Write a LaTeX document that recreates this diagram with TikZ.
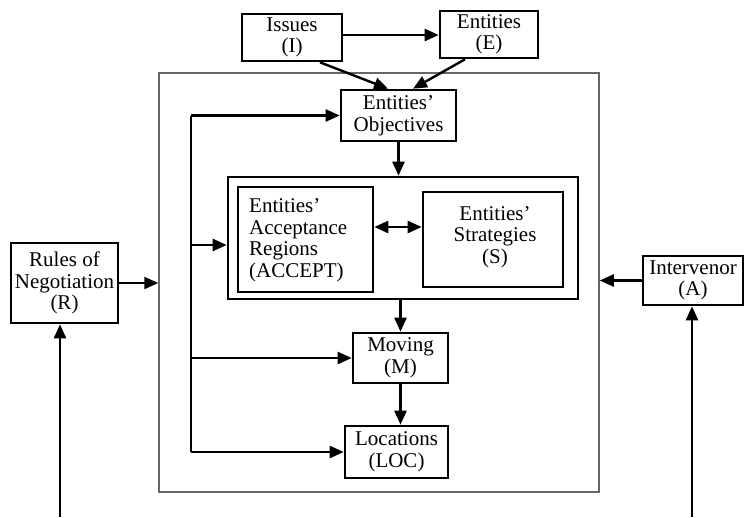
\documentclass[tikz,border=0pt]{standalone}
\usepackage{fontspec}
\setmainfont{Liberation Serif}
\usetikzlibrary{arrows.meta,calc}
\begin{document}
\begin{tikzpicture}[x=1pt,y=-1pt,
  box/.style={draw=black,line width=2.6pt,inner sep=0pt,align=center,
    font=\fontsize{21}{21.5}\selectfont},
  arr/.style={line width=2.4pt,-{Triangle[length=14pt,width=12pt]}},
  darr/.style={line width=2.4pt,{Triangle[length=14pt,width=12pt]}-{Triangle[length=14pt,width=12pt]}},
  lin/.style={line width=2.4pt}]
\useasboundingbox (0,0) rectangle (746,517);
% outer frame
\node[draw=black!60,line width=1.5pt,minimum width=440pt,minimum height=419pt,inner sep=0pt] (frame) at (379,282.5) {};
% nodes
\node[box,minimum width=100pt,minimum height=47pt] (I) at (292,37.5) {Issues\\(I)};
\node[box,minimum width=98pt,minimum height=47pt] (E) at (489,34.5) {Entities\\(E)};
\node[box,minimum width=115pt,minimum height=51pt] (O) at (398.5,115.5) {Entities'\\Objectives};
\node[box,minimum width=350pt,minimum height=122pt] (big) at (403,238) {};
\node[box,minimum width=135pt,minimum height=105pt] (ACC) at (305.5,239.5) {};
\node[anchor=west,align=left,inner sep=0pt,font=\fontsize{21}{21.5}\selectfont] (acct) at (249,240) {Entities'\\Acceptance\\Regions\\(ACCEPT)};
\node[box,minimum width=140pt,minimum height=95pt] (S) at (493,239.5) {};
\node[align=center,inner sep=0pt,font=\fontsize{21}{21.5}\selectfont] (st) at (495,237) {Entities'\\Strategies\\(S)};
\node[box,minimum width=107pt,minimum height=80pt] (R) at (64.5,283) {Rules of\\Negotiation\\(R)};
\node[box,minimum width=100pt,minimum height=49pt] (A) at (693,280.5) {Intervenor\\(A)};
\node[box,minimum width=95pt,minimum height=50pt] (M) at (400.5,358) {Moving\\(M)};
\node[box,minimum width=103pt,minimum height=52pt] (L) at (396.5,452) {Locations\\(LOC)};
% helper coordinates
\coordinate (lx) at (191,0);
\coordinate (rb) at (60,517);
\coordinate (ab) at (692,517);
% arrows
\draw[arr] (I.east |- 0,35) -- (E.west |- 0,35);
\draw[arr] ([xshift=28pt]I.south) -- ([xshift=-10.5pt]O.north);
\draw[arr] ([xshift=-24pt]E.south) -- ([xshift=14.5pt]O.north);
\draw[arr] (O.south) -- (O.south |- big.north);
\draw[lin] (lx |- L.west) -- (lx |- O.west);
\draw[arr] (lx |- O.west) -- (O.west);
\draw[arr] ([yshift=-7pt]big.west -| lx) -- ([yshift=-7pt]big.west);
\draw[arr] (lx |- M.west) -- (M.west);
\draw[arr] (lx |- L.west) -- (L.west);
\draw[darr] ([yshift=12.5pt]ACC.east) -- ([yshift=12.5pt]ACC.east -| S.west);
\draw[arr] (big.south -| M.north) -- (M.north);
\draw[arr] (M.south) -- (M.south |- L.north);
\draw[arr] (R.east) -- (R.east -| frame.west);
\draw[arr] (A.west) -- (A.west -| frame.east);
\draw[arr] (rb) -- (rb |- R.south);
\draw[arr] (ab) -- (ab |- A.south);
\end{tikzpicture}
\end{document}
